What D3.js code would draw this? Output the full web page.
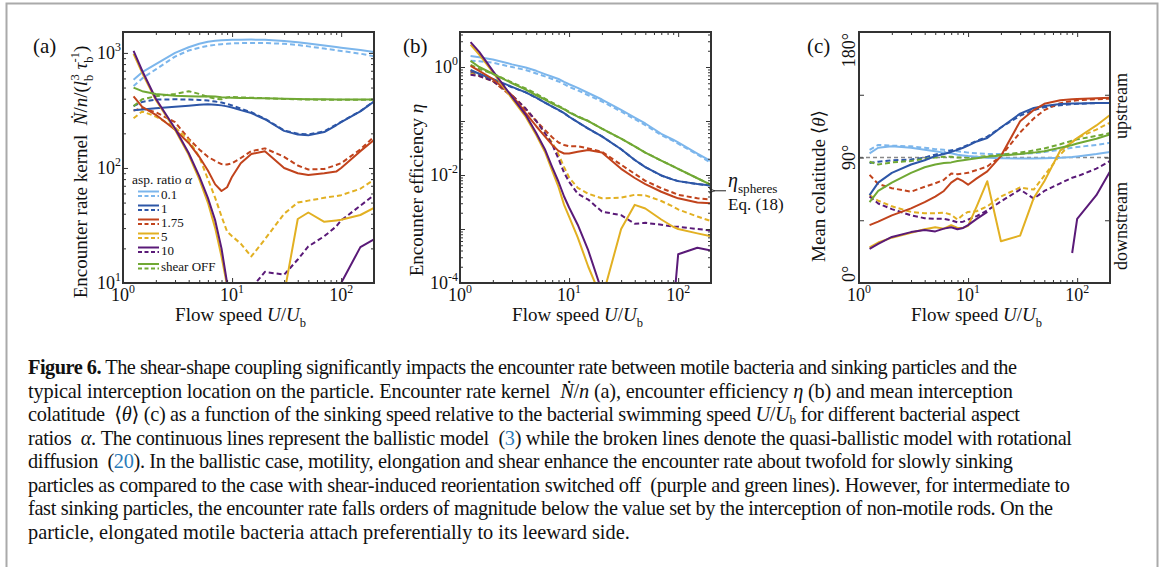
<!DOCTYPE html>
<html><head><meta charset="utf-8">
<script src="https://cdn.jsdelivr.net/npm/d3@7"></script>
<style>
body{margin:0;background:#fff}
text{font-family:"Liberation Serif","DejaVu Serif",serif;white-space:pre;fill:#111}
</style>
</head><body>
<svg id="fig" width="1165" height="567"></svg>
<script>
// ---------------- DATA ----------------
const flowSpeed = [1.25,1.5,2,3,4,5,6,7,8,9,10,12,15,20,30,40,50,70,90,100,150,200];
const aspectRatioLabels = ["0.1","1","1.75","5","10","shear OFF"];
const xTickExponents = [0,1,2];
const kernelTickExponents = [1,2,3];
const effTickExponents = [0,-2,-4];
const colatTickValues = [0,45,90,135,180];
const colatTickLabels = ["0°","90°","180°"];

// (a) encounter rate kernel  (solid = ballistic, dashed = quasi-ballistic)
const kernelSolid_01  = [585,680,800,1000,1120,1200,1250,1275,1290,1295,1300,1303,1305,1300,1270,1240,1210,1160,1125,1110,1060,1020];
const kernelDashed_01 = [515,600,720,930,1050,1110,1150,1175,1190,1200,1210,1217,1222,1220,1200,1170,1140,1090,1055,1040,985,935];
const kernelSolid_1   = [318,322,330,340,348,355,358,355,350,343,335,318,300,265,210,195,192,205,235,250,310,378];
const kernelDashed_1  = [345,375,393,395,393,390,385,378,370,360,350,328,305,268,212,198,196,208,238,252,312,380];
const kernelSolid_175 = [420,340,290,215,165,125,95,72,63,68,84,110,132,140,100,90,87,90,93,100,140,175];
const kernelDashed_175= [315,330,305,250,180,145,125,115,108,107,110,122,140,148,125,105,97,98,106,110,145,187];
const kernelSolid_5   = [980,670,390,215,130,80,50,30,17,9.5,5,null,null,null,8,36,41,34,35,35.5,39,45];
const kernelDashed_5  = [270,310,280,225,175,125,80,55,38,28,25.5,22,17,24,40,50,52,55,57,58,66,79];
const kernelSolid_10  = [1040,700,400,220,135,85,55,35,20,10,6,null,null,null,null,null,null,null,6,10,20.5,24];
const kernelDashed_10 = [null,null,null,null,null,null,null,null,null,null,null,6,9,12.5,11.8,16,20.8,25.5,31,35,47,58];
const kernelSolid_off = [500,465,440,425,420,418,420,418,412,410,408,406,405,403,400,398,396,395,394,394,393,393];
const kernelDashed_off= [345,395,420,440,465,440,415,400,395,410,415,410,408,404,398,395,393,392,392,392,392,392];

// (b) encounter efficiency
const effSolid_01  = [1.6,1.52,1.38,1.12,0.98,0.85,0.74,0.66,0.6,0.53,0.48,0.41,0.33,0.25,0.16,0.115,0.09,0.058,0.045,0.04,0.025,0.018];
const effDashed_01 = [1.3,1.28,1.2,1.0,0.88,0.76,0.67,0.6,0.54,0.48,0.43,0.37,0.3,0.23,0.15,0.108,0.084,0.055,0.043,0.038,0.024,0.0167];
const effSolid_1   = [0.88,0.75,0.6,0.43,0.34,0.27,0.22,0.185,0.16,0.14,0.12,0.095,0.072,0.052,0.03,0.019,0.014,0.0098,0.0082,0.0077,0.0068,0.0064];
const effDashed_1  = [0.8,0.7,0.58,0.42,0.34,0.27,0.22,0.185,0.16,0.14,0.12,0.095,0.072,0.052,0.03,0.019,0.014,0.0098,0.0082,0.0077,0.0068,0.0064];
const effSolid_175 = [1.05,0.85,0.6,0.3,0.14,0.08,0.052,0.036,0.028,0.025,0.025,0.027,0.029,0.026,0.013,0.0088,0.0068,0.0049,0.004,0.0037,0.0031,0.003];
const effDashed_175= [0.85,0.75,0.55,0.28,0.16,0.1,0.068,0.05,0.04,0.036,0.034,0.034,0.031,0.027,0.0155,0.0105,0.0078,0.0057,0.0047,0.0043,0.0037,0.0035];
const effSolid_5   = [2.6,1.7,0.8,0.26,0.12,0.055,0.027,0.012,0.006,0.0028,0.0017,0.0007,0.0002,0.00005,0.001,0.0028,0.0024,0.0015,0.0011,0.001,0.00083,0.00073];
const effDashed_5  = [0.75,0.68,0.55,0.3,0.17,0.1,0.06,0.04,0.024,0.014,0.009,0.0058,0.0045,0.0037,0.0038,0.0043,0.0042,0.0033,0.0026,0.0023,0.0017,0.0014];
const effSolid_10  = [2.9,1.9,0.85,0.28,0.13,0.06,0.03,0.014,0.0075,0.004,0.0025,0.0012,0.0004,0.00007,null,null,null,null,0.00003,0.00034,0.00045,0.0004];
const effDashed_10 = [0.72,0.68,0.55,0.3,0.17,0.1,0.06,0.037,0.02,0.011,0.0075,0.0045,0.0035,0.0021,0.0018,0.00125,0.0013,0.0012,0.0011,0.0011,0.001,0.00094];
const effSolid_off = [1.3,1.0,0.75,0.5,0.38,0.3,0.25,0.21,0.185,0.165,0.145,0.12,0.1,0.072,0.047,0.034,0.026,0.0185,0.0145,0.013,0.0087,0.0066];
const effDashed_off= [1.1,0.92,0.75,0.52,0.4,0.32,0.26,0.22,0.19,0.168,0.148,0.122,0.1,0.072,0.047,0.034,0.026,0.0185,0.0145,0.013,0.0087,0.0066];
const etaSpheres = 0.0051;

// (c) mean colatitude (degrees)
const colatSolid_01  = [93,97,98,97,95.5,94.5,93.5,93,92,91.5,91,90.5,89.8,89.5,89.2,89.3,89.5,89.8,90.3,90.7,92.5,94];
const colatDashed_01 = [95.5,99,98.5,98,97,96,95.5,95,94.5,94,93.5,93,92.5,92.5,92.5,93,94,95.5,97,97.5,99,100.5];
const colatSolid_1   = [63,72,79,85,88,91,92.5,94,95.5,97,98.5,101.5,104,111.5,121.5,125.5,127,128.3,128.7,128.8,129,129];
const colatDashed_1  = [86,87,88,88.5,90,92,93.5,95,96,97.5,99,102,105,111.5,120,124,126,127.5,128.3,128.5,129,129];
const colatSolid_175 = [41.5,44,48.5,53.5,58,62,66,72,75,73,70.5,75,80,91,116,124,128.5,131,131.8,132,132.5,132.8];
const colatDashed_175= [77.5,71,68,65.5,69,71.5,74,78.5,78,78.5,79,81,83.5,91,108,118,124,129,130.5,131,131.8,132.2];
const colatSolid_5   = [25.5,29,32.5,36,38.5,40,39,41.5,39.5,39.5,41,55,73,30,34,61,73,95,101,104,113,120.5];
const colatDashed_5  = [63,59,55,51,50,50,50.5,49,45.5,49,51,51.5,55,62,68.5,67,77,92,101,104,110,115];
const colatSolid_10  = [24.5,28,33,36.5,38,37,39,40,38.5,39.5,41.5,46,51,null,null,null,null,null,21.5,46,63,80];
const colatDashed_10 = [62,57,53,48.5,46.5,46,46,45,43.5,44,45.5,48,52,58.5,67,60.5,66,71.5,75.5,76.5,82,87.5];
const colatSolid_off = [58,66,72,79,83,85,86,86.5,87.5,88,88.5,89.5,90.5,91.5,92.5,93.5,94.5,97,99,100,103.5,106.5];
const colatDashed_off= [87,85,86.5,87.5,89,90,90.5,90.5,90,90,90,90.5,91,92,93.5,95,96.5,99.5,102,103,105.5,107.5];

// ---------------- STYLE ----------------
const palette = ["#7cb6ec","#2d56a7","#c1431c","#e2b022","#5a1a78","#70a834"];
const svg = d3.select("#fig");
svg.append("rect").attr("width",1165).attr("height",567).attr("fill","#fff");
svg.append("rect").attr("x",6.5).attr("y",3.5).attr("width",1151).attr("height",620)
  .attr("fill","none").attr("stroke","#aaa").attr("stroke-width",2);

function rich(sel, segs, F, subK){
  const sk = subK==null ? 0.3 : subK;
  let off = 0;
  segs.forEach(s=>{
    const ts = sel.append("tspan").text(s.t);
    let target = 0, size = F;
    if (s.sub){ target = sk*F; size = 0.66*F; }
    if (s.sup){ target = -0.42*F; size = 0.66*F; }
    ts.attr("font-size", size);
    if (target !== off){ ts.attr("dy", target-off); off = target; }
    if (s.dx) ts.attr("dx", s.dx);
    if (s.i) ts.attr("font-style","italic");
    if (s.b) ts.attr("font-weight","bold");
    if (s.c) ts.style("fill", s.c);
  });
}

const PT = 32, PW = 251, PH = 251;
const xMinor = [], xMajor = [1,10,100];
[1,10,100].forEach(d=>{ for(let k=2;k<=9;k++){ if(d*k<200) xMinor.push(d*k);} });

function ticks(g, x, y, xMaj, xMin, yMaj, yMin, left){
  const add = (axis, tr)=>{ const a = g.append("g").attr("transform",tr).call(axis);
    a.select(".domain").remove(); a.selectAll("text").remove();
    a.selectAll("line").attr("stroke","#333").attr("stroke-width",1); };
  const bot = PT+PH, right = left+PW;
  add(d3.axisBottom(x).tickValues(xMaj).tickSize(-5).tickSizeOuter(0), `translate(0,${bot})`);
  add(d3.axisBottom(x).tickValues(xMin).tickSize(-3).tickSizeOuter(0), `translate(0,${bot})`);
  add(d3.axisTop(x).tickValues(xMaj).tickSize(-5).tickSizeOuter(0), `translate(0,${PT})`);
  add(d3.axisTop(x).tickValues(xMin).tickSize(-3).tickSizeOuter(0), `translate(0,${PT})`);
  add(d3.axisLeft(y).tickValues(yMaj).tickSize(-5).tickSizeOuter(0), `translate(${left},0)`);
  add(d3.axisRight(y).tickValues(yMaj).tickSize(-5).tickSizeOuter(0), `translate(${right},0)`);
  if (yMin.length){
    add(d3.axisLeft(y).tickValues(yMin).tickSize(-3).tickSizeOuter(0), `translate(${left},0)`);
    add(d3.axisRight(y).tickValues(yMin).tickSize(-3).tickSizeOuter(0), `translate(${right},0)`);
  }
}

function drawPanel(left, y, series){
  const x = d3.scaleLog().domain([1,200]).range([left, left+PW]);
  const id = "clip"+left;
  svg.append("clipPath").attr("id",id).append("rect")
    .attr("x",left).attr("y",PT).attr("width",PW).attr("height",PH);
  const g = svg.append("g");
  const lg = g.append("g").attr("clip-path",`url(#${id})`);
  const line = d3.line().defined(d=>d[1]!=null).x(d=>x(d[0])).y(d=>y(d[1]));
  series.forEach(s=>{
    lg.append("path").attr("d", line(flowSpeed.map((v,i)=>[v,s.v[i]])))
      .attr("fill","none").attr("stroke",palette[s.c]).attr("stroke-width",2)
      .attr("stroke-linejoin","round").attr("stroke-dasharray", s.d ? "5,3" : null);
  });
  xTickExponents.forEach(e=>{
    const t = g.append("text").attr("x",x(Math.pow(10,e))).attr("y",301).attr("text-anchor","middle");
    rich(t,[{t:"10"},{t:String(e),sup:true}],18);
  });
  const xl = g.append("text").attr("x",left+PW/2-8).attr("y",321).attr("text-anchor","middle");
  rich(xl,[{t:"Flow speed "},{t:"U",i:true},{t:"/"},{t:"U",i:true},{t:"b",sub:true}],19);
  return {x,g};
}

function mkSeries(arrs){
  const out = [];
  arrs.forEach((p,c)=>{ out.push({v:p[1],c,d:true}); });
  arrs.forEach((p,c)=>{ out.push({v:p[0],c,d:false}); });
  return out;
}

// ---------- Panel (a) ----------
const yA = d3.scaleLog().domain([10,1520]).range([PT+PH,PT]);
const A = drawPanel(123, yA, mkSeries([
  [kernelSolid_01,kernelDashed_01],[kernelSolid_1,kernelDashed_1],[kernelSolid_175,kernelDashed_175],
  [kernelSolid_5,kernelDashed_5],[kernelSolid_10,kernelDashed_10],[kernelSolid_off,kernelDashed_off]]));
{
  const yMin=[]; [10,100,1000].forEach(d=>{for(let k=2;k<=9;k++){ if(d*k<1520) yMin.push(d*k);} });
  ticks(A.g, A.x, yA, xMajor, xMinor, [10,100,1000], yMin, 123);
  kernelTickExponents.forEach(e=>{
    const t = A.g.append("text").attr("x",121).attr("y",yA(Math.pow(10,e))+6).attr("text-anchor","end");
    rich(t,[{t:"10"},{t:String(e),sup:true}],18);
  });
  const yl = A.g.append("text").attr("transform","translate(87,172) rotate(-90)").attr("text-anchor","middle");
  rich(yl,[{t:"Encounter rate kernel  "},{t:"Ṅ",i:true},{t:"/"},{t:"n",i:true},{t:"/("},{t:"l",i:true},
    {t:"b",sub:true},{t:"3",sup:true,dx:-6},{t:" "},{t:"τ",i:true},{t:"b",sub:true},{t:"-1",sup:true,dx:-6},{t:")"}],19);
  const lgd = A.g.append("g");
  lgd.append("text").attr("x",132).attr("y",184).call(t=>rich(t,[{t:"asp. ratio "},{t:"α",i:true}],13.5));
  const ly = [191.5,205.5,219.5,233.5,247.5,264];
  aspectRatioLabels.forEach((lab,i)=>{
    lgd.append("line").attr("x1",138).attr("x2",159).attr("y1",ly[i]).attr("y2",ly[i]).attr("stroke",palette[i]).attr("stroke-width",2);
    lgd.append("line").attr("x1",138).attr("x2",159).attr("y1",ly[i]+4.5).attr("y2",ly[i]+4.5).attr("stroke",palette[i]).attr("stroke-width",2).attr("stroke-dasharray","4,2.5");
    lgd.append("text").attr("x",161).attr("y",ly[i]+7).attr("font-size",13).text(lab);
  });
  A.g.append("rect").attr("x",123).attr("y",PT).attr("width",PW).attr("height",PH).attr("fill","none").attr("stroke","#333").attr("stroke-width",2);
  A.g.append("text").attr("x",33).attr("y",53).attr("font-size",21).text("(a)");
}

// ---------- Panel (b) ----------
const yB = d3.scaleLog().domain([1e-4,4.45]).range([PT+PH,PT]);
const B = drawPanel(460, yB, mkSeries([
  [effSolid_01,effDashed_01],[effSolid_1,effDashed_1],[effSolid_175,effDashed_175],
  [effSolid_5,effDashed_5],[effSolid_10,effDashed_10],[effSolid_off,effDashed_off]]));
{
  const maj=[1e-4,1e-3,1e-2,1e-1,1], yMin=[];
  maj.forEach(d=>{for(let k=2;k<=9;k++){ if(d*k<4.45) yMin.push(d*k);} });
  ticks(B.g, B.x, yB, xMajor, xMinor, maj, yMin, 460);
  effTickExponents.forEach(e=>{
    const t = B.g.append("text").attr("x",458).attr("y",yB(Math.pow(10,e))+6).attr("text-anchor","end");
    rich(t,[{t:"10"},{t:String(e),sup:true}],18);
  });
  const yl = B.g.append("text").attr("transform","translate(423,190) rotate(-90)").attr("text-anchor","middle");
  rich(yl,[{t:"Encounter efficiency "},{t:"η",i:true}],19);
  B.g.append("rect").attr("x",460).attr("y",PT).attr("width",PW).attr("height",PH).attr("fill","none").attr("stroke","#333").attr("stroke-width",2);
  B.g.append("text").attr("x",403).attr("y",53).attr("font-size",21).text("(b)");
  const ya = yB(etaSpheres);
  svg.append("defs").append("marker").attr("id","arr").attr("viewBox","0 0 10 10").attr("refX",1).attr("refY",5)
    .attr("markerWidth",6).attr("markerHeight",6).attr("orient","auto")
    .append("path").attr("d","M10,1 L0,5 L10,9").attr("fill","none").attr("stroke","#222").attr("stroke-width",1.5);
  B.g.append("line").attr("x1",726).attr("x2",714).attr("y1",ya).attr("y2",ya).attr("stroke","#222").attr("stroke-width",1).attr("marker-end","url(#arr)");
  const ta = B.g.append("text").attr("x",728).attr("y",ya-4);
  rich(ta,[{t:"η",i:true},{t:"spheres",sub:true}],20);
  B.g.append("text").attr("x",728).attr("y",ya+19).attr("font-size",17).text("Eq. (18)");
}

// ---------- Panel (c) ----------
const yC = d3.scaleLinear().domain([0,180]).range([PT+PH,PT]);
const C = drawPanel(859, yC, mkSeries([
  [colatSolid_01,colatDashed_01],[colatSolid_1,colatDashed_1],[colatSolid_175,colatDashed_175],
  [colatSolid_5,colatDashed_5],[colatSolid_10,colatDashed_10],[colatSolid_off,colatDashed_off]]));
{
  C.g.insert("line",":first-child").attr("x1",859).attr("x2",859+PW).attr("y1",yC(90)).attr("y2",yC(90))
    .attr("stroke","#888").attr("stroke-width",1.5).attr("stroke-dasharray","4,3");
  ticks(C.g, C.x, yC, xMajor, xMinor, colatTickValues, [], 859);
  const anchors = ["start","middle","end"];
  [0,90,180].forEach((v,i)=>{
    C.g.append("text").attr("transform",`translate(855,${yC(v)+(i===0?-1:i===2?1:0)}) rotate(-90)`)
      .attr("text-anchor",anchors[i]).attr("font-size",18).text(colatTickLabels[i]);
  });
  const yl = C.g.append("text").attr("transform","translate(825,186) rotate(-90)").attr("text-anchor","middle");
  rich(yl,[{t:"Mean colatitude ⟨"},{t:"θ",i:true},{t:"⟩"}],19);
  C.g.append("text").attr("transform","translate(1127,106) rotate(-90)").attr("text-anchor","middle").attr("font-size",18).text("upstream");
  C.g.append("text").attr("transform","translate(1127,226) rotate(-90)").attr("text-anchor","middle").attr("font-size",18).text("downstream");
  C.g.append("rect").attr("x",859).attr("y",PT).attr("width",PW).attr("height",PH).attr("fill","none").attr("stroke","#333").attr("stroke-width",2);
  C.g.append("text").attr("x",807).attr("y",53).attr("font-size",21).text("(c)");
}

// ---------- Caption ----------
const blue = "#2b7bb9";
const captionLines = [
  [{t:"Figure 6.",b:true},{t:" The shear-shape coupling significantly impacts the encounter rate between motile bacteria and sinking particles and the"}],
  [{t:"typical interception location on the particle. Encounter rate kernel  "},{t:"Ṅ",i:true},{t:"/"},{t:"n",i:true},{t:" (a), encounter efficiency "},{t:"η",i:true},{t:" (b) and mean interception"}],
  [{t:"colatitude  ⟨"},{t:"θ",i:true},{t:"⟩ (c) as a function of the sinking speed relative to the bacterial swimming speed "},{t:"U",i:true},{t:"/"},{t:"U",i:true},{t:"b",sub:true},{t:" for different bacterial aspect"}],
  [{t:"ratios  "},{t:"α",i:true},{t:". The continuous lines represent the ballistic model  ("},{t:"3",c:blue},{t:") while the broken lines denote the quasi-ballistic model with rotational"}],
  [{t:"diffusion  ("},{t:"20",c:blue},{t:"). In the ballistic case, motility, elongation and shear enhance the encounter rate about twofold for slowly sinking"}],
  [{t:"particles as compared to the case with shear-induced reorientation switched off  (purple and green lines). However, for intermediate to"}],
  [{t:"fast sinking particles, the encounter rate falls orders of magnitude below the value set by the interception of non-motile rods. On the"}],
  [{t:"particle, elongated motile bacteria attach preferentially to its leeward side."}]
];
const capEnds = [1017,1013,1020,1072,1013,1070,1053,630];
const capX = 28, capY0 = 374, capDY = 23.5;
const probe = svg.append("text").attr("x",capX).attr("y",-100);
rich(probe, captionLines[7], 18);
const natural = probe.node().getComputedTextLength();
probe.remove();
const capF = 18*(capEnds[7]-capX)/natural;
captionLines.forEach((segs,i)=>{
  const t = svg.append("text").attr("x",capX).attr("y",capY0+i*capDY);
  rich(t, segs, capF, 0.15);
  if (i<7) t.attr("textLength", capEnds[i]-capX).attr("lengthAdjust","spacing");
});
</script>
</body></html>
